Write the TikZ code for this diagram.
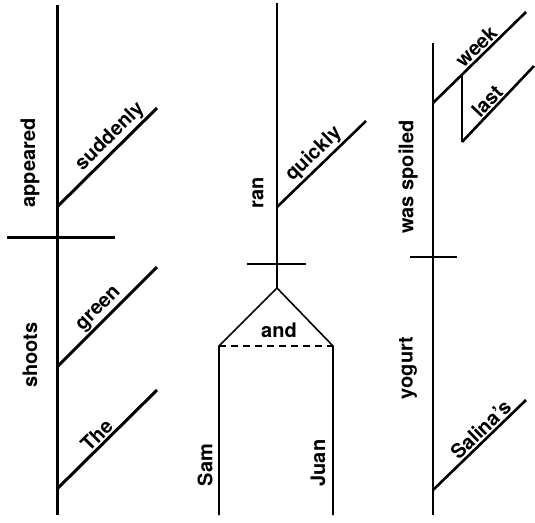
\documentclass[tikz,border=0pt]{standalone}
\usepackage{fontspec}
\setmainfont{TeX Gyre Heros}
\tikzset{
  diagram word/.style={font=\bfseries\fontsize{20}{20}\selectfont, inner sep=1.5pt},
  heavy/.style={line width=3pt},
  medium/.style={line width=2.6pt},
  light/.style={line width=1.6pt},
}
\newcommand{\Point}[3]{
  \coordinate (#1) at (#2, #3);
}
\newcommand{\UprightWord}[4]{
  \node [diagram word, rotate=90] (#1) at (#2, #3) {#4};
}
\newcommand{\Rule}[3]{
  \draw [#1] (#2) -- (#3);
}
\newcommand{\Modifier}[6]{
  \draw [#1] (#3) -- node [diagram word, sloped, above, pos=#5] (#2) {#6} (#4);
}

\begin{document}
\begin{tikzpicture}[x=1pt, y=-1pt]
  \useasboundingbox (0,0) rectangle (535,522);

  % The green shoots appeared suddenly
  \Point{shootsTop}{57}{5}
  \Point{shootsBot}{57}{515}
  \Point{shootsCutL}{7}{237}
  \Point{shootsCutR}{115}{237}
  \Point{suddenlyA}{57}{207} \Point{suddenlyB}{157}{108}
  \Point{greenA}{57}{367}    \Point{greenB}{157}{267}
  \Point{theA}{57}{489}      \Point{theB}{157}{390}
  \Rule{heavy}{shootsTop}{shootsBot}
  \Rule{heavy}{shootsCutL}{shootsCutR}
  \Modifier{heavy}{suddenly}{suddenlyA}{suddenlyB}{0.62}{suddenly}
  \Modifier{heavy}{green}{greenA}{greenB}{0.5}{green}
  \Modifier{heavy}{the}{theA}{theB}{0.47}{The}
  \UprightWord{appeared}{30}{163}{appeared}
  \UprightWord{shoots}{30}{355}{shoots}

  % Sam and Juan ran quickly
  \Point{ranTop}{277}{3}
  \Point{fork}{277}{288}
  \Point{ranCutL}{247}{264}
  \Point{ranCutR}{306}{264}
  \Point{quicklyA}{277}{207} \Point{quicklyB}{366}{121}
  \Point{samTop}{219}{346}   \Point{samBot}{219}{515}
  \Point{juanTop}{333}{346}  \Point{juanBot}{333}{515}
  \Rule{light}{ranTop}{fork}
  \Rule{light}{ranCutL}{ranCutR}
  \Modifier{medium}{quickly}{quicklyA}{quicklyB}{0.51}{quickly}
  \draw [light] (samBot) -- (samTop) -- (fork) -- (juanTop) -- (juanBot);
  \Rule{light, dash pattern=on 7pt off 5pt}{samTop}{juanTop}
  \UprightWord{ran}{258}{193}{ran}
  \UprightWord{sam}{205}{465}{Sam}
  \UprightWord{juan}{318}{463}{Juan}
  \node [diagram word] (and) at (279, 330) {and};

  % Salina's yogurt was spoiled last week
  \Point{yogurtTop}{433}{43}
  \Point{yogurtBot}{433}{515}
  \Point{yogurtCutL}{410}{257}
  \Point{yogurtCutR}{457}{257}
  \Point{weekA}{433}{103}    \Point{weekB}{526}{12}
  \Point{lastTop}{462}{75}   \Point{lastA}{462}{142} \Point{lastB}{534}{66}
  \Point{salinaA}{433}{490}  \Point{salinaB}{526}{400}
  \Rule{medium}{yogurtTop}{yogurtBot}
  \Rule{medium}{yogurtCutL}{yogurtCutR}
  \Modifier{medium}{week}{weekA}{weekB}{0.54}{week}
  \Rule{light}{lastTop}{lastA}
  \Modifier{medium}{last}{lastA}{lastB}{0.45}{last}
  \Modifier{medium}{salina}{salinaA}{salinaB}{0.59}{Salina's}
  \UprightWord{spoiled}{408}{177}{was spoiled}
  \UprightWord{yogurt}{408}{368}{yogurt}

\end{tikzpicture}
\end{document}
